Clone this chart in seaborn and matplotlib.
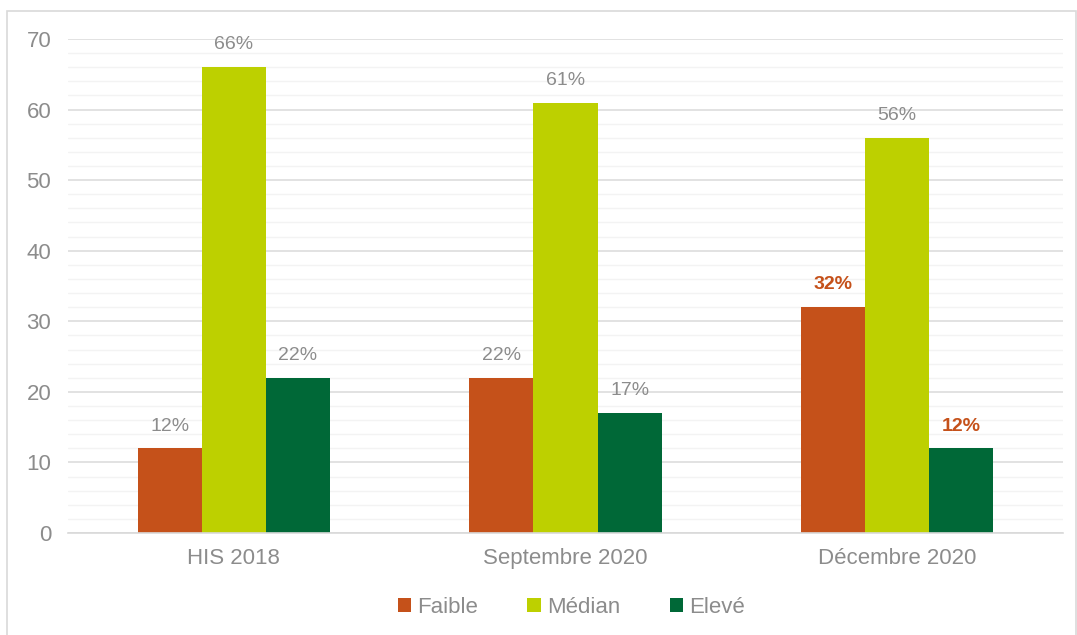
import matplotlib
matplotlib.use("Agg")
import matplotlib.pyplot as plt
from matplotlib.patches import Rectangle
from matplotlib.ticker import MultipleLocator
import seaborn as sns
import pandas as pd

# Data
periods = ["HIS 2018", "Septembre 2020", "Décembre 2020"]
levels = ["Faible", "Médian", "Elevé"]
faible = [12, 22, 32]
median = [66, 61, 56]
eleve = [22, 17, 12]

colors = ["#C5511A", "#BDD000", "#006837"]
label_gray = "#8C8C8C"

rows = []
for lvl, vals in zip(levels, [faible, median, eleve]):
    for p, v in zip(periods, vals):
        rows.append({"period": p, "level": lvl, "value": v})
df = pd.DataFrame(rows)

sns.set_theme(style="white")
plt.rcParams["font.family"] = ["Liberation Sans", "DejaVu Sans"]

fig = plt.figure(figsize=(10.77, 6.35), dpi=100)
ax = fig.add_axes([0.0631, 0.1606, 0.9239, 0.778])

sns.barplot(data=df, x="period", y="value", hue="level", order=periods,
            hue_order=levels, palette=colors, width=0.58, gap=0,
            saturation=1, linewidth=0, ax=ax, legend=True)

ax.set_xlim(-0.5, 2.5)
ax.set_ylim(0, 70)
ax.yaxis.set_major_locator(MultipleLocator(10))
ax.yaxis.set_minor_locator(MultipleLocator(2))
ax.grid(axis="y", which="major", color="#DDDDDD", linewidth=1.2, zorder=0)
ax.grid(axis="y", which="minor", color="#F3F3F3", linewidth=1.0, zorder=0)
ax.set_axisbelow(True)
for s in ["top", "right", "left"]:
    ax.spines[s].set_visible(False)
ax.spines["bottom"].set_color("#D9D9D9")
ax.spines["bottom"].set_linewidth(1.2)
ax.tick_params(axis="both", which="both", length=0, labelsize=16,
               labelcolor=label_gray)
ax.tick_params(axis="y", pad=12)
ax.tick_params(axis="x", pad=11)
ax.set_xlabel("")
ax.set_ylabel("")

# Value labels above bars
highlight = {("Décembre 2020", "Faible"), ("Décembre 2020", "Elevé")}
for container, lvl in zip(ax.containers, levels):
    for bar, p in zip(container, periods):
        h = bar.get_height()
        bold = (p, lvl) in highlight
        ax.annotate(f"{h:.0f}%", (bar.get_x() + bar.get_width() / 2, h),
                    xytext=(0, 16), textcoords="offset points",
                    ha="center", va="center", fontsize=14,
                    color=colors[0] if bold else label_gray,
                    fontweight="bold" if bold else "normal")

leg = ax.legend(loc="center", bbox_to_anchor=(0.506, -0.15), ncol=3,
                frameon=False, fontsize=16, handlelength=0.6,
                handleheight=0.6, handletextpad=0.3, columnspacing=2.2)
for t in leg.get_texts():
    t.set_color(label_gray)

# Light frame around the chart area
fig.patches.append(Rectangle((7 / 1077, -0.01), 1 - 7 / 1077 - 0.001,
                             1 - 11 / 635 + 0.01, transform=fig.transFigure,
                             fill=False, edgecolor="#D9D9D9", linewidth=1.2))

fig.savefig("out.png", dpi=100)
